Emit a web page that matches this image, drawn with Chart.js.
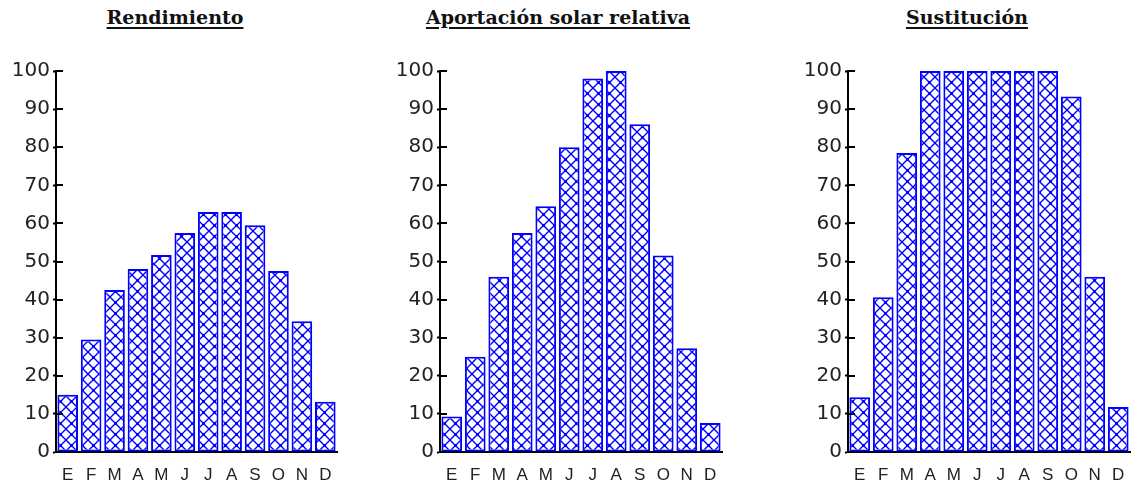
<!DOCTYPE html>
<html>
<head>
<meta charset="utf-8">
<script src="https://cdn.jsdelivr.net/npm/chart.js@4"></script>
<style>
    html, body { margin: 0; padding: 0; background: #fff; overflow: hidden; }
    body { width: 1132px; height: 496px; position: relative; }
    .title {
        position: absolute;
        top: 6px;
        transform: translateX(-50%);
        font-family: "DejaVu Serif", "Liberation Serif", serif;
        font-weight: bold;
        font-size: 19px;
        color: #111;
        text-decoration: underline;
        text-decoration-thickness: 2px;
        text-underline-offset: 3px;
        white-space: nowrap;
    }
    .box { position: absolute; top: 55px; height: 441px; }
</style>
</head>
<body>
<div class="title" style="left:175px">Rendimiento</div>
<div class="title" style="left:558px">Aportación solar relativa</div>
<div class="title" style="left:967px">Sustitución</div>

<div class="box" style="left:0px;width:339px"><canvas id="chartRend"></canvas></div>
<div class="box" style="left:384px;width:340px"><canvas id="chartAport"></canvas></div>
<div class="box" style="left:792px;width:340px"><canvas id="chartSust"></canvas></div>

<script>
// Meses (eje X)
const months = ["E", "F", "M", "A", "M", "J", "J", "A", "S", "O", "N", "D"];

// Valores (%)
const rendimiento = [15, 29.5, 42.5, 48, 51.7, 57.5, 63, 63, 59.5, 47.5, 34.3, 13.2];
const aportacion = [9.3, 25, 46, 57.5, 64.5, 80, 98, 100, 86, 51.6, 27.2, 7.6];
const sustitucion = [14.4, 40.6, 78.5, 100, 100, 100, 100, 100, 100, 93.3, 46, 11.8];

const yTicks = [0, 10, 20, 30, 40, 50, 60, 70, 80, 90, 100];

const blue = "#0000FF";

// Cross hatch fill, like the old windows brush
function makeHatch() {
    const size = 11;
    const c = document.createElement("canvas");
    c.width = size;
    c.height = size;
    const g = c.getContext("2d");
    g.fillStyle = "#ffffff";
    g.fillRect(0, 0, size, size);
    g.strokeStyle = blue;
    g.lineWidth = 1.4;
    g.beginPath();
    g.moveTo(-1, -1);
    g.lineTo(size + 1, size + 1);
    g.moveTo(-1, size + 1);
    g.lineTo(size + 1, -1);
    g.stroke();
    g.fillStyle = blue;
    g.fillRect(size / 2 - 1.5, size / 2 - 1.5, 3, 3);
    return g.createPattern(c, "repeat");
}

// Little part of the y ticks that goes inside the plot
const innerTicks = {
    id: "innerTicks",
    afterDatasetsDraw(chart) {
        const { ctx, chartArea, scales } = chart;
        ctx.save();
        ctx.strokeStyle = "#000";
        ctx.lineWidth = 2;
        scales.y.ticks.forEach((t) => {
            const y = Math.round(scales.y.getPixelForValue(t.value));
            ctx.beginPath();
            ctx.moveTo(chartArea.left, y);
            ctx.lineTo(chartArea.left + 7, y);
            ctx.stroke();
        });
        ctx.restore();
    },
};

function makeChart(id, values) {
    const ctx = document.getElementById(id).getContext("2d");
    return new Chart(ctx, {
        type: "bar",
        data: {
            labels: months,
            datasets: [
                {
                    data: values,
                    backgroundColor: makeHatch(),
                    borderColor: blue,
                    borderWidth: 2,
                    borderSkipped: false,
                    categoryPercentage: 1,
                    barPercentage: 0.88,
                },
            ],
        },
        options: {
            responsive: true,
            maintainAspectRatio: false,
            animation: false,
            layout: {
                padding: { top: 16, right: 2, left: 0, bottom: 0 },
            },
            plugins: {
                legend: { display: false },
                tooltip: { enabled: false },
            },
            scales: {
                x: {
                    afterFit: (scale) => {
                        scale.height = 44;
                        // labels fit inside their slots, no side padding needed
                        scale.paddingLeft = 0;
                        scale.paddingRight = 0;
                    },
                    grid: {
                        display: true,
                        drawOnChartArea: false,
                        drawTicks: false,
                        color: "rgba(0,0,0,0)",
                    },
                    border: { display: true, color: "#000", width: 2 },
                    ticks: {
                        autoSkip: false,
                        maxRotation: 0,
                        padding: 13,
                        color: "#222",
                        font: { family: "'Liberation Sans', Arial, sans-serif", size: 17 },
                    },
                },
                y: {
                    min: 0,
                    max: 100,
                    afterFit: (scale) => {
                        scale.width = 56;
                    },
                    afterBuildTicks: (scale) => {
                        scale.ticks = yTicks.map((v) => ({ value: v }));
                    },
                    grid: {
                        display: true,
                        drawOnChartArea: false,
                        drawTicks: true,
                        tickLength: 3,
                        tickWidth: 2,
                        tickColor: "#000",
                    },
                    border: { display: true, color: "#000", width: 2 },
                    ticks: {
                        padding: 3,
                        color: "#222",
                        font: { family: "'DejaVu Sans', sans-serif", size: 20 },
                    },
                },
            },
        },
        plugins: [innerTicks],
    });
}

makeChart("chartRend", rendimiento);
makeChart("chartAport", aportacion);
makeChart("chartSust", sustitucion);
</script>
</body>
</html>
